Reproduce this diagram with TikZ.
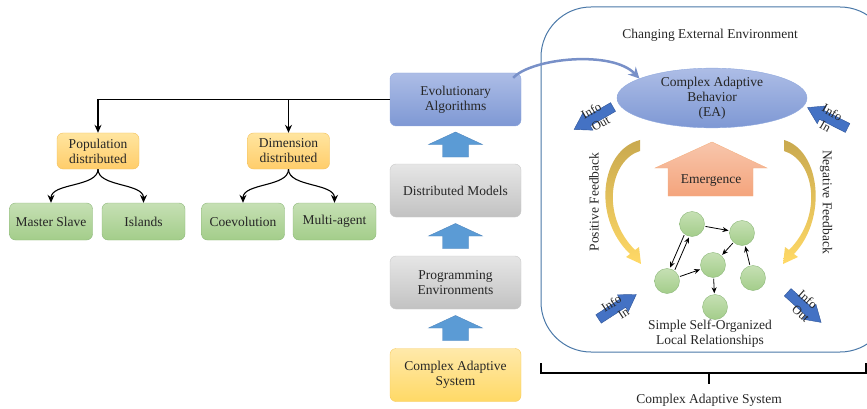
\documentclass[tikz,border=0pt]{standalone}
\usepackage{fontspec}
\setmainfont{Liberation Serif}
\usetikzlibrary{shapes.geometric,arrows.meta}

\definecolor{txt}{HTML}{262626}
\definecolor{eatop}{HTML}{ADBDE6}
\definecolor{eabot}{HTML}{7E98D4}
\definecolor{eaedge}{HTML}{8FA8DD}
\definecolor{graytop}{HTML}{E6E6E6}
\definecolor{graybot}{HTML}{C2C2C2}
\definecolor{grayedge}{HTML}{C9C9C9}
\definecolor{yeltop}{HTML}{FFE9AA}
\definecolor{yelbot}{HTML}{FFD966}
\definecolor{yeledge}{HTML}{F7CB5E}
\definecolor{orgtop}{HTML}{FFE5A0}
\definecolor{orgbot}{HTML}{FFCD6A}
\definecolor{orgedge}{HTML}{F3C05B}
\definecolor{grntop}{HTML}{C6E0B4}
\definecolor{grnbot}{HTML}{A3CD8A}
\definecolor{grnedge}{HTML}{8DB87A}
\definecolor{upblue}{HTML}{5B9BD5}
\definecolor{upedge}{HTML}{4F86BE}
\definecolor{infoblue}{HTML}{4472C4}
\definecolor{infoedge}{HTML}{2F5597}
\definecolor{envedge}{HTML}{4A78A8}
\definecolor{linkblue}{HTML}{7890C8}
\definecolor{fbtop}{HTML}{C9A94F}
\definecolor{fbbot}{HTML}{FFD966}
\definecolor{emtop}{HTML}{F8C6AC}
\definecolor{embot}{HTML}{F4A47C}
\definecolor{emedge}{HTML}{F4B183}

\tikzset{
  every node/.style={font=\fontsize{13.5}{15}\selectfont, text=txt},
  stage/.style={draw=#1edge, top color=#1top, bottom color=#1bot, rounded corners=6,
    minimum width=131, minimum height=53, align=center, inner sep=2},
  branch/.style={draw=orgedge, top color=orgtop, bottom color=orgbot, rounded corners=6,
    minimum width=82, minimum height=36, align=center, inner sep=1},
  leaf/.style={draw=grnedge, top color=grntop, bottom color=grnbot, rounded corners=6,
    minimum width=83, minimum height=37, inner sep=1},
  agent/.style={circle, draw=grnedge, top color=grntop, bottom color=grnbot, minimum size=25},
  tree/.style={line width=1.1, -{Stealth[length=8,width=7]}},
  link/.style={line width=0.8, -{Stealth[length=6,width=5]}, shorten >=1, shorten <=1},
  infotxt/.style={inner sep=0, font=\fontsize{12.5}{13}\selectfont},
  uparrow/.pic={
    \path[draw=upedge, fill=upblue] (0,-12.5) -- (27,0) -- (13,0) -- (13,12.5)
      -- (-13,12.5) -- (-13,0) -- (-27,0) -- cycle;
  },
  infoarrow/.pic={
    \path[draw=infoedge, fill=infoblue] (-22,-5) -- (7,-5) -- (7,-10) -- (23,0)
      -- (7,10) -- (7,5) -- (-22,5) -- cycle;
  }
}

\begin{document}
\begin{tikzpicture}[x=1pt,y=-1pt]
    \useasboundingbox (0,0) rectangle (867,409);
    \clip (0,0) rectangle (867,409);

    % environment
    \draw[envedge, line width=1] (541,7) [rounded corners=50] rectangle (890,352);
    \node (env) at (710,35) {Changing External Environment};

    % stages
    \node[stage=ea] (ea) at (455.5,99.5) {Evolutionary\\Algorithms};
    \node[stage=gray] (dist) at (455.5,190.5) {Distributed Models};
    \node[stage=gray] (prog) at (455.5,282.5) {Programming\\Environments};
    \node[stage=yel] (cas) at (455.5,375) {Complex Adaptive\\System};
    \pic at (455.5,144.5) {uparrow};
    \pic at (455.5,236) {uparrow};
    \pic at (455.5,328) {uparrow};

    % tree
    \node[branch] (pop) at (98,151) {Population\\distributed};
    \node[branch] (dim) at (288.5,151) {Dimension\\distributed};
    \node[leaf] (master) at (51,221.5) {Master Slave};
    \node[leaf] (islands) at (143.5,221.5) {Islands};
    \node[leaf] (coevo) at (243,221.5) {Coevolution};
    \node[leaf] (multi) at (334.5,221.5) {Multi-agent};

    \draw[tree] (ea.west) -| (pop.north);
    \draw[tree] (dim.north |- ea.west) -- (dim.north);
    \draw[tree] (pop.south) .. controls +(0,18) and +(0,-20) .. (master.north);
    \draw[tree] (pop.south) .. controls +(0,18) and +(0,-20) .. (islands.north);
    \draw[tree] (dim.south) .. controls +(0,18) and +(0,-20) .. (coevo.north);
    \draw[tree] (dim.south) .. controls +(0,18) and +(0,-20) .. (multi.north);

    % complex adaptive behavior
    \node[ellipse, draw=eaedge, top color=eatop, bottom color=eabot, minimum width=190,
      minimum height=54, inner sep=0, align=center] (cab) at (712,98)
      {Complex Adaptive\\Behavior\\(EA)};
    \draw[linkblue, line width=2.5, -{Stealth[length=11,width=11]}]
      ([shift={(-8,5)}]ea.north east) .. controls (532,58) and (612,50) .. (cab.165);

    % info arrows
    \pic[rotate=210] at (594,118) {infoarrow};
    \pic[rotate=153] at (828,118) {infoarrow};
    \pic[rotate=33] at (617,307) {infoarrow};
    \pic[rotate=-42] at (804,307) {infoarrow};
    \begin{scope}[shift={(594,118)}, rotate=30]
        \node[infotxt, rotate=30] (info1) at (1,-7.5) {Info};
        \node[infotxt, rotate=30] (out1) at (3,8) {Out};
    \end{scope}
    \begin{scope}[shift={(828,118)}, rotate=-30]
        \node[infotxt, rotate=-30] (info2) at (1,-7) {Info};
        \node[infotxt, rotate=-30] (in2) at (2,9) {In};
    \end{scope}
    \begin{scope}[shift={(617,307)}, rotate=33]
        \node[infotxt, rotate=33] (info3) at (-3,-6) {Info};
        \node[infotxt, rotate=33] (in3) at (2,9) {In};
    \end{scope}
    \begin{scope}[shift={(804,307)}, rotate=-42]
        \node[infotxt, rotate=-42] (info4) at (-2,-8) {Info};
        \node[infotxt, rotate=-42] (out4) at (2,7) {Out};
    \end{scope}

    % feedback
    \shade[top color=fbtop, bottom color=fbbot] (640,140) -- (640,151)
      .. controls (610,160) and (600,215) .. (635,250) -- (639,247) -- (641,264)
      -- (626,257) -- (630,254) .. controls (592,218) and (600,150) .. (640,140) -- cycle;
    \shade[top color=fbtop, bottom color=fbbot] (784,140) -- (784,151)
      .. controls (814,160) and (824,215) .. (789,250) -- (785,247) -- (783,264)
      -- (798,257) -- (794,254) .. controls (828,218) and (820,150) .. (784,140) -- cycle;
    \node[rotate=90] (posfb) at (594,202) {Positive Feedback};
    \node[rotate=-90] (negfb) at (826,202) {Negative Feedback};

    % emergence
    \shade[draw=emedge, top color=emtop, bottom color=embot] (712,142) -- (767,168)
      -- (753,168) -- (753,196) -- (668,196) -- (668,168) -- (655,168) -- cycle;
    \node (emerge) at (711,181) {Emergence};

    % agents
    \node[agent] (a1) at (692,224) {};
    \node[agent] (a2) at (742,233) {};
    \node[agent] (a3) at (713,265) {};
    \node[agent] (a4) at (667,281) {};
    \node[agent] (a5) at (753,278) {};
    \node[agent] (a6) at (715,307) {};
    \draw[link] (a1) -- (a2);
    \draw[link] (a2) -- (a3);
    \draw[link] (a3) -- (a6);
    \draw[link] (a4) -- (a3);
    \draw[link] (a5) -- (a2);
    \draw[link] (a1.234) -- (a4.78);
    \draw[link] (a4.54) -- (a1.258);
    \node[align=center] (local) at (710,334) {Simple Self-Organized\\Local Relationships};

    % system bracket
    \draw[line width=1.2] (541,363) -- (541,373) -- (866,373) -- (866,363);
    \draw[line width=1.2] (709,373) -- (709,384);
    \node (system) at (709,400) {Complex Adaptive System};
\end{tikzpicture}
\end{document}
